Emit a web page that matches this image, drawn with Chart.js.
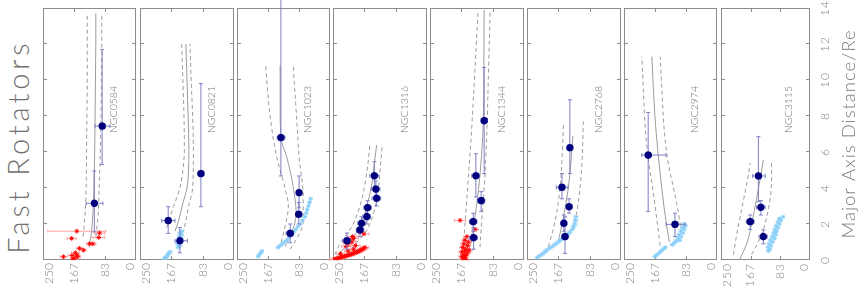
<!DOCTYPE html>
<html>
<head>
<meta charset="utf-8">
<script src="https://cdn.jsdelivr.net/npm/chart.js@4.4.1/dist/chart.umd.min.js"></script>
<style>
  html, body { margin: 0; padding: 0; background: #ffffff; }
  body { width: 866px; height: 289px; overflow: hidden; position: relative; }
  #rot { position: absolute; left: 0; top: 0; width: 289px; height: 866px;
         transform-origin: 0 0; transform: translate(0px, 289px) rotate(-90deg); }
  #title { position: absolute; left: 0; top: 0; width: 281px; height: 43px; line-height: 35px;
           text-align: center; white-space: nowrap; color: #707070;
           font-family: Lato, 'Open Sans', 'DejaVu Sans', sans-serif; font-weight: 300; font-size: 29px; }
</style>
</head>
<body>
<div id="rot"><div id="title"><span id="titleText">Fast Rotators</span></div></div>
<script>
// ---------------- DATA ----------------
const sigmaTicks = [0, 83, 167, 250];            // velocity dispersion axis (km/s)
const distTicks  = [0, 2, 4, 6, 8, 10, 12, 14];  // Major Axis Distance / Re
const galaxyNames = ['NGC0584','NGC0821','NGC1023','NGC1316','NGC1344','NGC2768','NGC2974','NGC3115'];
const starKind    = ['red','blue','blue','red','red','blue','blue','blue'];

// GC bins: [R, Rmin, Rmax, sigma, sigmaMin, sigmaMax]
const gc_NGC0584 = [[7.44,5.3,11.7,91,70,110],[3.15,1.56,4.95,112,89,134]];
const gc_NGC0821 = [[4.8,2.96,9.8,88,80,96],[2.19,1.48,2.96,175,157,192],[1.07,0.4,1.8,144,124,157]];
const gc_NGC1023 = [[6.8,4.67,16,132,121,142],[3.74,2.9,4.67,83,76,91],[2.54,2.0,3.2,84,77,91],[1.48,0.96,2.0,107,99,118]];
const gc_NGC1316 = [[4.68,4.0,5.46,140,128,152],[3.94,3.5,4.4,136,125,148],[3.43,3.0,3.9,134,123,146],[2.91,2.5,3.3,158,148,168],
                    [2.41,2.0,2.8,160,150,171],[2.04,1.7,2.4,174,164,184],[1.67,1.3,2.0,178,168,188],[1.07,0.6,1.5,213,203,224]];
const gc_NGC1344 = [[7.74,4.8,10.7,106,98,114],[4.68,3.5,5.9,128,118,139],[3.3,2.7,3.8,114,104,124],[2.13,1.6,2.6,135,125,145],[1.24,0.6,1.8,134,124,145]];
const gc_NGC2768 = [[6.24,4.8,8.9,136,128,143],[4.04,3.4,4.8,157,141,172],[2.96,2.6,3.4,138,130,146],[2.04,1.6,2.5,152,144,160],[1.3,0.37,2.4,149,141,157]];
const gc_NGC2974 = [[5.83,2.7,8.2,185,137,202],[1.98,1.3,2.6,113,86,137]];
const gc_NGC3115 = [[4.67,3.24,6.85,145,126,161],[2.93,2.5,3.3,138,126,150],[2.13,1.7,2.5,168,157,179],[1.3,0.9,1.67,131,120,143]];

// stellar kinematics: [R, sigma, sigmaErr]
const st_NGC0584 = [[1.6,159,78],[1.5,98,14],[1.25,100,16],[1.2,173,12],[0.9,116,8],[0.9,125,8],[0.65,152,8],[0.55,141,7],
                    [0.4,163,10],[0.28,159,8],[0.25,172,10],[0.18,195,9],[0.18,157,8],[0.1,166,8],[0.05,170,6]];
const st_NGC0821 = [[0.1,185,5],[0.15,181,5],[0.22,178,5],[0.3,176,5],[0.38,173,5],[0.45,170,5],[0.7,148,6],[0.8,145,6],[0.9,150,6],
                    [1.0,142,6],[1.1,146,6],[1.2,141,6],[1.3,144,6],[1.4,140,6],[1.5,143,6],[1.6,139,6]];
const st_NGC1023 = [[0.2,193,4],[0.3,190,4],[0.4,186,4],[0.5,183,4],[0.7,140,4],[0.8,134,4],[0.9,128,4],[1.0,122,4],[1.1,116,4],
                    [1.25,110,4],[1.4,104,4],[1.55,98,4],[1.7,92,4],[1.85,86,4],[2.0,80,4],[2.2,74,4],[2.4,68,4],[2.6,64,4],
                    [2.8,61,4],[3.0,58,4],[3.2,55,4],[3.4,52,4]];
const st_NGC1316 = [[0.02,249,10],[0.05,245,10],[0.08,240,10],[0.1,236,10],[0.12,232,10],[0.15,228,10],[0.18,224,10],[0.2,220,10],
                    [0.22,216,10],[0.25,212,10],[0.28,208,10],[0.3,204,10],[0.33,200,10],[0.36,196,10],[0.4,192,10],[0.43,188,10],
                    [0.46,184,10],[0.5,180,10],[0.55,176,10],[0.6,172,10],[0.65,168,10],[0.7,165,10],[0.9,210,12],[1.0,200,12],
                    [1.1,205,12],[1.2,195,12],[0.8,190,12],[0.75,215,12],[1.3,198,12],[1.45,168,14],[0.35,230,10],[0.5,210,10],[0.6,195,10]];
const st_NGC1344 = [[2.2,170,15],[1.7,130,8],[1.3,152,8],[1.1,157,8],[0.9,160,8],[0.8,150,8],[0.7,163,8],[0.6,155,8],[0.5,158,8],
                    [0.45,165,8],[0.4,150,8],[0.3,160,8],[0.25,155,8],[0.2,165,8],[0.15,158,8],[0.1,162,8],[0.05,160,8],
                    [0.02,155,8],[1.0,148,8],[0.55,146,8]];
const st_NGC2768 = [[0.15,222,6],[0.25,215,6],[0.35,208,6],[0.45,202,6],[0.55,198,6],[0.65,190,6],[0.75,183,6],[0.85,176,6],
                    [0.95,170,6],[1.05,164,6],[1.15,158,6],[1.25,152,6],[1.35,146,6],[1.45,141,6],[1.55,136,6],[1.7,130,6],
                    [1.85,126,6],[2.0,123,6],[2.2,121,6],[2.4,120,6]];
const st_NGC2974 = [[0.2,167,5],[0.3,161,5],[0.4,155,5],[0.5,150,5],[0.6,145,5],[0.7,139,5],[0.85,120,5],[0.95,115,5],[1.05,110,5],
                    [1.1,100,5],[1.2,105,5],[1.3,97,5],[1.4,102,5],[1.5,92,5],[1.6,97,5],[1.7,88,5],[1.8,93,5],[1.9,85,5],[2.0,89,5]];
const st_NGC3115 = [[0.5,117,5],[0.6,113,5],[0.7,118,5],[0.8,110,5],[0.9,115,5],[1.0,105,5],[1.1,111,5],[1.2,100,5],[1.3,106,5],
                    [1.4,96,5],[1.5,102,5],[1.6,94,5],[1.7,99,5],[1.8,90,5],[1.9,95,5],[2.0,86,5],[2.1,90,5],[2.2,82,5],
                    [2.3,86,5],[2.4,76,5]];

// model profiles: [R, sigma] (best fit, higher-sigma bound, lower-sigma bound)
const md_NGC0584 = [[0.7,126],[1.5,120],[2.5,116],[4,113],[6,111],[8,110],[10,109],[12,108],[13.7,108]];
const lo_NGC0584 = [[1.3,142],[2.5,137],[4,134],[6,133],[8,132],[10,131],[12,131],[13.7,131]];
const hi_NGC0584 = [[1.3,108],[2.5,102],[4,99],[6,96],[8,94],[10,93],[12,92],[13.7,92]];
const md_NGC0821 = [[1.6,157],[2.2,147],[3,138],[4,125],[5,121],[6.1,120],[8,122],[10,125],[12,128]];
const lo_NGC0821 = [[1.8,179],[2.96,161],[4,144],[5,136],[6.1,132],[8,133],[10,136],[12,139]];
const hi_NGC0821 = [[1.1,144],[2,130],[2.96,121],[4,110],[6,108],[8,110],[10,114],[12,117]];
const md_NGC1023 = [[0.74,121],[1.5,103],[2.6,91],[4.07,99],[5.7,116],[6.8,132],[8.5,134],[10.8,134]];
const lo_NGC1023 = [[0.6,136],[1.5,125],[3,112],[4,121],[5.7,143],[8,161],[10.8,173]];
const hi_NGC1023 = [[0.6,107],[1.5,81],[2.2,72],[3.5,72],[5.7,83],[8,90],[10.8,99]];
const md_NGC1316 = [[0.19,240],[0.93,209],[1.85,178],[3.33,156],[4.3,146],[5.19,141],[6.39,134]];
const lo_NGC1316 = [[0.3,245],[0.93,231],[1.85,200],[3.33,174],[5.2,158],[6.4,152]];
const hi_NGC1316 = [[0.3,212],[0.74,196],[1.67,160],[3.33,134],[5.2,124],[6.4,119]];
const md_NGC1344 = [[0.6,146],[1.8,135],[3.9,121],[7.8,108],[10,107],[13.9,106]];
const lo_NGC1344 = [[0.7,161],[2,157],[4,150],[7,140],[10,132],[13.9,122]];
const hi_NGC1344 = [[0.7,117],[2,113],[4,106],[7,99],[10,95],[13.9,90]];
const md_NGC2768 = [[1.0,167],[2.4,153],[4.0,140],[5.5,133],[6.9,128]];
const lo_NGC2768 = [[0.74,193],[2,177],[4,162],[6,156],[7.6,153]];
const hi_NGC2768 = [[1.7,127],[3,115],[5,105],[7.7,100]];
const md_NGC2974 = [[1.0,128],[1.85,135],[4.07,149],[8.0,167],[11.3,175]];
const lo_NGC2974 = [[0.8,153],[3.1,167],[6.4,189],[11.3,202]];
const hi_NGC2974 = [[1.5,95],[3.1,108],[5.9,135],[11.3,153]];
const md_NGC3115 = [[0.06,197],[0.89,178],[2.0,164],[3.4,150],[4.5,140],[5.56,131]];
const lo_NGC3115 = [[0.3,215],[1.4,206],[3.3,187],[4.5,175],[5.4,168]];
const hi_NGC3115 = [[0.3,164],[1.4,136],[3.4,112],[4.5,108],[5.56,108]];

// ---------------- LAYOUT (element coords of the un-rotated strip) ----------------
const panelTop    = [43, 140, 237, 333, 430, 527, 624, 721];
const panelBottom = [136, 234, 330, 427, 524, 621, 717, 810];
const FONT = "Lato, 'Open Sans', 'DejaVu Sans', sans-serif";
const WEIGHT = 300;
const tickSize = 12, labelSize = 10.5, axisTitleSize = 18.5;
const TICK_COLOR = '#848484';
const AXIS_W = 29;

// stretch the big title to the reference length
(function () {
  const t = document.getElementById('titleText');
  const w = t.offsetWidth;
  const n = t.textContent.length;
  const sp = Math.max(0, (210 - w) / (n - 1));
  t.style.letterSpacing = sp + 'px';
  t.style.marginRight = (-sp) + 'px';
})();

const gcAll = [gc_NGC0584, gc_NGC0821, gc_NGC1023, gc_NGC1316, gc_NGC1344, gc_NGC2768, gc_NGC2974, gc_NGC3115];
const stAll = [st_NGC0584, st_NGC0821, st_NGC1023, st_NGC1316, st_NGC1344, st_NGC2768, st_NGC2974, st_NGC3115];
const mdAll = [md_NGC0584, md_NGC0821, md_NGC1023, md_NGC1316, md_NGC1344, md_NGC2768, md_NGC2974, md_NGC3115];
const loAll = [lo_NGC0584, lo_NGC0821, lo_NGC1023, lo_NGC1316, lo_NGC1344, lo_NGC2768, lo_NGC2974, lo_NGC3115];
const hiAll = [hi_NGC0584, hi_NGC0821, hi_NGC1023, hi_NGC1316, hi_NGC1344, hi_NGC2768, hi_NGC2974, hi_NGC3115];

function seg(ctx, x1, y1, x2, y2) { ctx.beginPath(); ctx.moveTo(x1, y1); ctx.lineTo(x2, y2); ctx.stroke(); }

const errorBarPlugin = {
  id: 'errBars',
  beforeDatasetDraw(chart, args) {
    const ds = chart.data.datasets[args.index];
    if (!ds.errColor) return;
    const {ctx, scales: {x, y}} = chart;
    ctx.save();
    ctx.strokeStyle = ds.errColor;
    ctx.lineWidth = ds.errWidth || 1;
    const cap = ds.errCap || 0;
    ds.data.forEach(p => {
      const px = x.getPixelForValue(p.x), py = y.getPixelForValue(p.y);
      if (p.sLo !== undefined) {
        const a = y.getPixelForValue(p.sLo), b = y.getPixelForValue(p.sHi);
        seg(ctx, px, a, px, b);
        if (cap) { seg(ctx, px - cap, a, px + cap, a); seg(ctx, px - cap, b, px + cap, b); }
      }
      if (p.rLo !== undefined) {
        const a = x.getPixelForValue(p.rLo), b = x.getPixelForValue(p.rHi);
        seg(ctx, a, py, b, py);
        if (cap) { seg(ctx, a, py - cap, a, py + cap); seg(ctx, b, py - cap, b, py + cap); }
      }
    });
    ctx.restore();
  }
};

const panelPlugin = {
  id: 'panelDeco',
  afterLayout(chart) {
    // end labels (250 / 0) sit on extra y-scales that share the main label column
    ['yTop', 'yBottom'].forEach(id => {
      const s = chart.scales[id];
      if (s) { s.left = 0; s.right = AXIS_W; s.width = AXIS_W; }
    });
  },
  beforeDraw(chart, args, opts) {
    if (opts.spacing) chart.ctx.letterSpacing = opts.spacing;
  },
  beforeDatasetsDraw(chart, args, opts) {
    const {ctx, chartArea: a, scales: {x, y}} = chart;
    ctx.save();
    ctx.strokeStyle = '#8c8c8c';
    ctx.lineWidth = 1;
    ctx.strokeRect(Math.round(a.left) + 0.5, Math.round(a.top) + 0.5,
                   Math.round(a.right - a.left) - 1, Math.round(a.bottom - a.top) - 1);
    const tl = 4;
    distTicks.forEach(v => {
      if (v <= x.min || v >= x.max) return;
      const px = Math.round(x.getPixelForValue(v)) + 0.5;
      seg(ctx, px, a.top, px, a.top + tl);
      seg(ctx, px, a.bottom, px, a.bottom - tl);
    });
    sigmaTicks.forEach(v => {
      if (v <= y.min || v >= y.max) return;
      const py = Math.round(y.getPixelForValue(v)) + 0.5;
      seg(ctx, a.left, py, a.left + tl, py);
      seg(ctx, a.right, py, a.right - tl, py);
    });
    ctx.letterSpacing = '0px';
    ctx.fillStyle = '#747474';
    ctx.font = `${WEIGHT} ${labelSize}px ${FONT}`;
    ctx.textAlign = 'left';
    ctx.textBaseline = 'middle';
    ctx.fillText(opts.label, x.getPixelForValue(7.05), y.getPixelForValue(60));
    ctx.restore();
  }
};

const rot = document.getElementById('rot');
const sigMin = sigmaTicks[0], sigMax = sigmaTicks[sigmaTicks.length - 1];

// a y-axis that shows a subset of the sigma tick labels
function sigmaAxis(values, align, width) {
  return {
    type: 'linear', position: 'left', min: sigMin, max: sigMax,
    grid: { display: false, drawTicks: false }, border: { display: false },
    afterBuildTicks: s => { s.ticks = values.map(v => ({value: v})); },
    afterFit: s => { s.width = width; s.paddingTop = 0; s.paddingBottom = 0; },
    ticks: { autoSkip: false, padding: 3, align, color: TICK_COLOR,
             font: { family: FONT, size: tickSize, weight: WEIGHT } }
  };
}

galaxyNames.forEach((name, i) => {
  const first = i === 0, last = i === galaxyNames.length - 1;
  const top = first ? 0 : panelTop[i] - 8;
  const bottom = last ? 866 : panelBottom[i] + 8;
  const h = bottom - top;
  const cv = document.createElement('canvas');
  cv.width = 289; cv.height = h;
  cv.style.cssText = `position:absolute;left:0;top:${top}px;width:289px;height:${h}px;`;
  rot.appendChild(cv);

  const red = starKind[i] === 'red';
  const gcPts = gcAll[i].map(r => ({x: r[0], y: r[3], rLo: r[1], rHi: r[2], sLo: r[4], sHi: r[5]}));
  const stPts = stAll[i].map(r => ({x: r[0], y: r[1], sLo: r[1] - r[2], sHi: r[1] + r[2]}));
  const line = (arr, dash) => ({
    data: arr.map(r => ({x: r[0], y: r[1]})),
    showLine: true, pointRadius: 0, borderColor: '#9c9c9c', borderWidth: 1,
    borderDash: dash, cubicInterpolationMode: 'monotone', fill: false
  });

  new Chart(cv, {
    type: 'scatter',
    data: {
      datasets: [
        { data: gcPts, pointStyle: 'circle', pointRadius: 3.7, backgroundColor: '#00007f',
          borderColor: '#00007f', borderWidth: 0, errColor: '#7d7dc4', errWidth: 1, errCap: 2 },
        { data: stPts, pointStyle: 'star', pointRadius: red ? 2.3 : 2.1,
          borderColor: red ? '#ff0000' : '#87cefa', backgroundColor: red ? '#ff0000' : '#87cefa', borderWidth: 1,
          errColor: red ? '#ffa0a0' : '#c4e4f7', errWidth: 1, errCap: 1.5 },
        line(mdAll[i], []),
        line(loAll[i], [4, 3]),
        line(hiAll[i], [4, 3])
      ]
    },
    options: {
      responsive: false, maintainAspectRatio: false, animation: false,
      events: [],
      layout: { padding: { left: 0, right: 8, top: first ? 43 : 8, bottom: last ? 0 : 8 } },
      plugins: {
        legend: { display: false },
        tooltip: { enabled: false },
        title: { display: false },
        panelDeco: { label: name, spacing: last ? '1px' : null }
      },
      scales: {
        x: {
          type: 'linear', min: 0, max: 14,
          grid: { display: false, drawTicks: false }, border: { display: false },
          afterBuildTicks: s => { s.ticks = distTicks.map(v => ({value: v})); },
          afterFit: s => { s.height = last ? 56 : 0; s.paddingLeft = 0; s.paddingRight = 0; },
          ticks: { display: last, autoSkip: false, maxRotation: 0, minRotation: 0, padding: 8,
                   color: TICK_COLOR, font: { family: FONT, size: tickSize, weight: WEIGHT } },
          title: { display: last, text: 'Major Axis Distance/Re', color: '#7a7a7a',
                   font: { family: FONT, size: axisTitleSize, weight: WEIGHT, lineHeight: 1.2 },
                   padding: { top: 0, bottom: 17 - axisTitleSize * 0.6 } }
        },
        y: sigmaAxis(sigmaTicks.slice(1, -1), 'center', AXIS_W),
        yTop: sigmaAxis([sigMax], 'start', 0),
        yBottom: sigmaAxis([sigMin], 'end', 0)
      }
    },
    plugins: [errorBarPlugin, panelPlugin]
  });
});
</script>
</body>
</html>
